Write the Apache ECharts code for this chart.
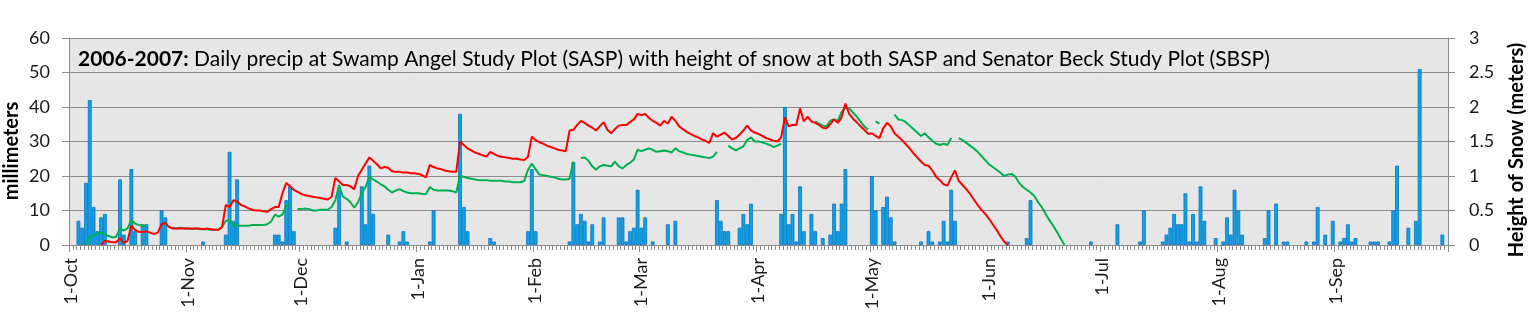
<!DOCTYPE html>
<html>
<head>
<meta charset="utf-8">
<script src="https://cdn.jsdelivr.net/npm/echarts@6/dist/echarts.min.js"></script>
<style>
html,body{margin:0;padding:0;background:#fff;}
#chart{width:1534px;height:318px;}
</style>
</head>
<body>
<div id="chart"></div>
<script>
var n = null;
// Daily precipitation at SASP (mm), 1-Oct-2006 .. 30-Sep-2007, one line per month
var precipMm = [
  n,n,7,5,18,42,11,4,8,9, n,n,n,19,3,n,22,4,n,6, 6,n,n,n,10,8,n,n,n,n, n,            // Oct
  n,n,n,n,1,n,n,n,n,n, 3,27,7,19,n,n,n,n,n,n, n,n,n,3,3,1,13,17,4,n,                 // Nov
  n,n,n,n,n,n,n,n,n,5, 16,n,1,n,n,n,17,6,23,9, n,n,n,3,n,n,1,4,1,n, n,               // Dec
  n,n,n,1,10,n,n,n,n,n, n,38,11,4,n,n,n,n,n,2, 1,n,n,n,n,n,n,n,n,4, 22,              // Jan
  4,n,n,n,n,n,n,n,n,1, 24,6,9,7,1,6,n,1,8,n, n,n,8,8,1,4,5,16,                       // Feb
  5,8,n,1,n,n,n,6,n,7, n,n,n,n,n,n,n,n,n,n, 13,7,4,4,n,n,5,9,6,12, n,                // Mar
  n,n,n,n,n,n,9,40,6,9, 1,17,4,n,9,4,n,2,n,3, 12,4,12,22,n,n,n,n,n,n,                // Apr
  20,10,n,11,14,8,1,n,n,n, n,n,n,1,n,4,1,n,1,7, 1,16,7,n,n,n,n,n,n,n, n,             // May
  n,n,n,n,n,1,n,n,n,n, 2,13,n,n,n,n,n,n,n,n, n,n,n,n,n,n,n,1,n,n,                    // Jun
  n,n,n,n,6,n,n,n,n,n, 1,10,n,n,n,n,1,3,5,9, 6,6,15,1,9,1,17,7,n,n, 2,               // Jul
  n,1,8,3,16,10,3,n,n,n, n,n,2,10,n,12,n,1,1,n, n,n,n,1,n,1,11,n,3,n, 7,             // Aug
  n,1,2,6,1,2,n,n,n,1, 1,1,n,n,1,10,23,n,n,5, n,7,51,n,n,n,n,n,3,n                   // Sep
];
// Height of snow at SASP (m)
var snowSASP = [
  n,n,n,n,n,n,n,n,0.00,0.06, 0.05,0.04,0.04,0.10,0.03,0.06,0.28,0.22,0.19,0.19, 0.20,0.18,0.16,0.18,0.30,0.32,0.26,0.24,0.24,0.24, 0.24,
  0.24,0.24,0.24,0.24,0.23,0.24,0.23,0.22,0.22,0.26, 0.58,0.55,0.65,0.63,0.58,0.56,0.53,0.51,0.50,0.50, 0.49,0.48,0.52,0.55,0.55,0.75,0.90,0.85,0.80,0.77,
  0.74,0.72,0.71,0.70,0.69,0.68,0.67,0.66,0.70,0.97, 0.92,0.87,0.87,0.85,0.81,1.00,1.09,1.18,1.27,1.22, 1.17,1.11,1.13,1.12,1.07,1.06,1.06,1.05,1.05,1.04, 1.04,
  1.03,1.01,0.98,1.16,1.13,1.11,1.10,1.08,1.07,1.06, 1.06,1.50,1.45,1.40,1.37,1.34,1.32,1.30,1.28,1.35, 1.32,1.29,1.28,1.27,1.26,1.25,1.25,1.24,1.23,1.28, 1.57,
  1.52,1.49,1.47,1.44,1.42,1.40,1.38,1.37,1.36,1.66, 1.67,1.74,1.80,1.77,1.73,1.70,1.66,1.72,1.78,1.67, 1.62,1.68,1.73,1.74,1.74,1.78,1.82,1.90,
  1.88,1.90,1.84,1.80,1.77,1.73,1.80,1.76,1.86,1.80, 1.72,1.68,1.64,1.61,1.58,1.56,1.53,1.51,1.48,1.62, 1.57,1.60,1.63,1.58,1.53,1.55,1.60,1.66,1.73,1.66, 1.63,
  1.61,1.58,1.55,1.53,1.51,1.50,1.56,1.85,1.72,1.74, 1.74,1.98,1.79,1.86,1.79,1.77,1.74,1.70,1.69,1.75, 1.82,1.77,1.85,2.05,1.90,1.83,1.78,1.72,1.67,1.61,
  1.62,1.58,1.55,1.69,1.77,1.72,1.62,1.57,1.52,1.46, 1.40,1.33,1.27,1.21,1.16,1.15,1.08,0.99,0.94,0.88, 0.86,0.98,1.08,0.93,0.87,0.81,0.74,0.66,0.58,0.51, 0.45,
  0.38,0.30,0.22,0.13,0.05,0.00,n,n,n,n, n,n,n,n,n,n,n,n,n,n, n,n,n,n,n,n,n,n,n,n
];
// Height of snow at SBSP (m)
var snowSBSP = [
  n,n,n,n,0.00,0.12,0.14,0.17,0.18,0.15, 0.13,0.11,0.12,0.24,0.21,0.24,0.36,0.31,0.29,0.28, 0.28,n,n,n,n,n,n,0.25,0.24,0.25, 0.24,
  0.24,0.23,0.24,0.23,0.23,0.23,0.22,0.22,0.22,0.26, 0.35,0.36,0.29,0.28,0.28,0.28,0.28,0.29,0.29,0.29, 0.29,0.30,0.34,0.44,0.41,0.44,0.57,0.58,n,0.52,
  0.52,0.53,0.52,0.50,0.50,0.51,0.51,0.51,0.55,0.65, 0.87,0.70,0.67,0.62,0.54,0.62,0.75,0.84,0.99,0.95, 0.92,0.88,0.85,0.80,0.76,0.79,0.81,0.78,0.76,0.75, 0.75,
  0.75,0.74,0.74,0.84,0.80,0.79,0.79,0.79,0.79,0.78, 0.76,1.00,0.99,0.97,0.96,0.95,0.94,0.94,0.94,0.93, 0.93,0.93,0.93,0.92,0.92,0.91,0.91,0.91,0.93,1.09, 1.18,
  1.10,1.02,1.01,1.00,0.99,0.98,0.96,0.95,0.95,0.96, 1.21,n,1.26,1.27,1.22,1.14,1.09,1.14,1.16,1.15, 1.14,1.21,1.14,1.11,1.16,1.19,1.24,1.38,
  1.36,1.38,1.40,1.38,1.35,1.36,1.37,1.36,1.34,1.40, 1.36,1.34,1.32,1.31,1.30,1.29,1.28,1.27,1.26,1.28, 1.35,n,n,1.44,1.40,1.37,1.40,1.43,1.52,1.56, 1.50,
  1.50,1.49,1.47,1.45,1.42,1.44,1.47,n,n,n, n,n,n,n,n,1.79,1.76,1.73,1.72,1.80, 1.82,1.80,1.93,1.99,1.98,1.92,1.86,1.79,1.72,1.67,
  n,1.79,1.76,n,n,n,1.89,1.82,1.81,1.78, 1.73,1.68,1.63,1.58,1.62,1.56,1.51,1.47,1.45,1.47, 1.45,1.55,n,1.55,1.52,1.48,1.44,1.40,1.35,1.29, 1.23,
  1.17,1.13,1.09,1.05,1.00,1.02,1.03,0.99,0.90,0.84, 0.80,0.76,0.71,0.62,0.55,0.45,0.36,0.28,0.19,0.09, 0.00,n,n,n,n,n,n,n,n,n
];
var monthNames = ['Jan','Feb','Mar','Apr','May','Jun','Jul','Aug','Sep','Oct','Nov','Dec'];
var leftTicks = {min: 0, max: 60, interval: 10};
var rightTicks = {min: 0, max: 3, interval: 0.5};

var categories = [];
for (var i = 0; i < 365; i++) {
  var dt = new Date(2006, 9, 1 + i);
  categories.push(dt.getDate() + '-' + monthNames[dt.getMonth()]);
}
function isMonthStart(idx, val) { return /^1-/.test(val); }

var FONT = 'Lato, "Open Sans", sans-serif';
var chart = echarts.init(document.getElementById('chart'), null, {renderer: 'canvas'});
chart.setOption({
  animation: false,
  backgroundColor: '#ffffff',
  grid: {left: 69, right: 86, top: 38, bottom: 73, show: true, backgroundColor: '#E6E6E6', borderWidth: 0},
  xAxis: [{
    type: 'category', data: categories, boundaryGap: true,
    axisLine: {show: true, lineStyle: {color: '#8C8C8C', width: 1}},
    axisTick: {show: true, interval: 0, length: 5, lineStyle: {color: '#8C8C8C'}},
    axisLabel: {interval: isMonthStart, rotate: 90, margin: 13, fontSize: 18, fontFamily: FONT, color: '#1a1a1a'},
    splitLine: {show: false}
  }, {
    type: 'category', data: categories, boundaryGap: true, position: 'bottom',
    axisLine: {show: false},
    axisTick: {show: true, interval: isMonthStart, length: 7, lineStyle: {color: '#8C8C8C'}},
    axisLabel: {show: false}, splitLine: {show: false}
  }],
  yAxis: [{
    type: 'value', min: leftTicks.min, max: leftTicks.max, interval: leftTicks.interval, position: 'left',
    axisLine: {show: true, lineStyle: {color: '#8C8C8C'}},
    axisTick: {show: true, length: 7, lineStyle: {color: '#8C8C8C'}},
    axisLabel: {margin: 19, fontSize: 18, fontFamily: FONT, color: '#1a1a1a'},
    splitLine: {show: true, lineStyle: {color: '#8C8C8C', width: 1}}
  }, {
    type: 'value', min: rightTicks.min, max: rightTicks.max, interval: rightTicks.interval, position: 'right',
    axisLine: {show: true, lineStyle: {color: '#8C8C8C'}},
    axisTick: {show: true, length: 7, lineStyle: {color: '#8C8C8C'}},
    axisLabel: {margin: 21, fontSize: 18, fontFamily: FONT, color: '#1a1a1a'},
    splitLine: {show: false}
  }],
  graphic: [
    {type: 'text', x: 78, y: 59, z: 100, style: {
      text: '{b|2006-2007:} Daily precip at Swamp Angel Study Plot (SASP) with height of snow at both SASP and Senator Beck Study Plot (SBSP)',
      font: '21px ' + FONT, fill: '#000', align: 'left', verticalAlign: 'middle',
      rich: {b: {fontWeight: 'bold', fontSize: 21, fontFamily: FONT, fill: '#000', color: '#000'}}
    }},
    {type: 'text', x: 11.5, y: 151, rotation: Math.PI / 2, style: {
      text: 'millimeters', font: 'bold 20px ' + FONT, fill: '#000', align: 'center', verticalAlign: 'middle'
    }},
    {type: 'text', x: 1517, y: 150, rotation: Math.PI / 2, style: {
      text: 'Height of Snow (meters)', font: 'bold 20px ' + FONT, fill: '#000', align: 'center', verticalAlign: 'middle'
    }}
  ],
  series: [{
    name: 'Daily precip SASP', type: 'bar', xAxisIndex: 0, yAxisIndex: 0, data: precipMm,
    barCategoryGap: '0%',
    itemStyle: {color: '#00A8EE', borderColor: '#1B6CB6', borderWidth: 0.8}
  }, {
    name: 'HS SBSP', type: 'line', xAxisIndex: 0, yAxisIndex: 1, data: snowSBSP,
    showSymbol: false, connectNulls: false, lineStyle: {color: '#00B050', width: 2}, itemStyle: {color: '#00B050'}
  }, {
    name: 'HS SASP', type: 'line', xAxisIndex: 0, yAxisIndex: 1, data: snowSASP,
    showSymbol: false, connectNulls: false, lineStyle: {color: '#FF0000', width: 2}, itemStyle: {color: '#FF0000'}
  }]
});
</script>
</body>
</html>
